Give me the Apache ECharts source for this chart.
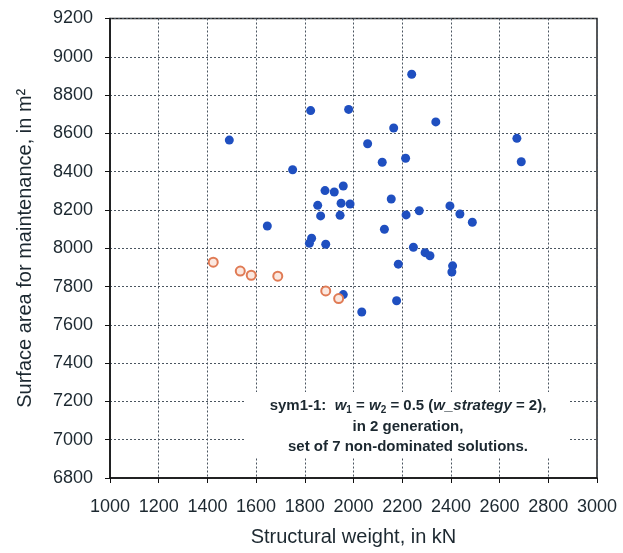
<!DOCTYPE html>
<html>
<head>
<meta charset="utf-8">
<script src="https://cdn.jsdelivr.net/npm/echarts@6/dist/echarts.min.js"></script>
<style>
  html, body { margin: 0; padding: 0; background: #fff; }
  #chart { width: 623px; height: 553px; }
</style>
</head>
<body>
<div id="chart"></div>
<script>
// Tick values of both axes
const xTicks = [1000, 1200, 1400, 1600, 1800, 2000, 2200, 2400, 2600, 2800, 3000];
const yTicks = [6800, 7000, 7200, 7400, 7600, 7800, 8000, 8200, 8400, 8600, 8800, 9000, 9200];

// Population of generation 2: structural weight [kN] and surface area [m²]
const popWeight = [1824, 1980, 1490, 1750, 1883, 1921, 1958, 1853, 1949, 1986,
                   1865, 1945, 1646, 1828, 1819, 1886, 1958, 2239, 2338, 2165,
                   2058, 2671, 2689, 2118, 2214, 2155, 2270, 2216, 2396, 2437,
                   2488, 2127, 2246, 2294, 2314, 2407, 2404, 2184, 2177, 2034];
const popArea   = [8719, 8725, 8565, 8410, 8301, 8294, 8325, 8224, 8235, 8231,
                   8169, 8172, 8116, 8052, 8026, 8021, 7758, 8909, 8660, 8628,
                   8546, 8574, 8452, 8449, 8470, 8257, 8196, 8174, 8221, 8179,
                   8136, 8099, 8005, 7977, 7961, 7908, 7876, 7917, 7726, 7667];

// Non-dominated solutions
const ndWeight = [1424, 1535, 1580, 1689, 1886, 1939];
const ndArea   = [7927, 7881, 7859, 7854, 7777, 7737];

const FONT = '"Liberation Sans", Arial, sans-serif';
const INK = '#1c2830';

const popData = popWeight.map((w, i) => [w, popArea[i]]);
const ndData = ndWeight.map((w, i) => [w, ndArea[i]]);

const chart = echarts.init(document.getElementById('chart'), null, { renderer: 'canvas' });

const gridLine = { show: true, lineStyle: { color: '#4a5560', width: 1, type: [2, 2] } };
const plain = v => String(v);

chart.setOption({
  animation: false,
  backgroundColor: '#fff',
  grid: {
    left: 110, right: 26, top: 18.5, bottom: 75,
    show: true, borderColor: '#222', borderWidth: 1.5, backgroundColor: 'transparent'
  },
  xAxis: {
    type: 'value',
    min: xTicks[0], max: xTicks[xTicks.length - 1], interval: 200,
    name: 'Structural weight, in kN',
    nameLocation: 'middle', nameGap: 49,
    nameTextStyle: { fontFamily: FONT, fontSize: 20, color: INK },
    axisLine: { show: true, lineStyle: { color: '#111', width: 1.5 } },
    axisTick: { show: true, inside: false, length: 5, lineStyle: { color: '#111' } },
    axisLabel: { fontFamily: FONT, fontSize: 18, color: INK, margin: 20, formatter: plain },
    splitLine: gridLine
  },
  yAxis: {
    type: 'value',
    min: yTicks[0], max: yTicks[yTicks.length - 1], interval: 200,
    name: 'Surface area for maintenance, in m²',
    nameLocation: 'middle', nameGap: 75,
    nameTextStyle: { fontFamily: FONT, fontSize: 20, color: INK },
    axisLine: { show: true, lineStyle: { color: '#111', width: 1.5 } },
    axisTick: { show: true, inside: false, length: 5, lineStyle: { color: '#111' } },
    axisLabel: { fontFamily: FONT, fontSize: 18, color: INK, margin: 17, formatter: plain },
    splitLine: gridLine
  },
  graphic: [
    {
      type: 'rect', z: 1,
      shape: { x: 246, y: 392, width: 322, height: 66 },
      style: { fill: '#fff' }
    },
    {
      type: 'text', z: 2,
      x: 408, y: 406,
      style: {
        align: 'center', verticalAlign: 'middle',
        rich: {
          n: { fontFamily: FONT, fontSize: 15, fill: INK, fontWeight: 'bold' },
          i: { fontFamily: FONT, fontSize: 15, fill: INK, fontStyle: 'italic', fontWeight: 'bold' },
          s: { fontFamily: FONT, fontSize: 10, fill: INK, fontWeight: 'bold', padding: [8, 0, 0, 0] }
        },
        text: '{n|sym1-1:  }{i|w}{s|1}{n| = }{i|w}{s|2}{n| = 0.5 (}{i|w_strategy}{n| = 2),}'
      }
    },
    {
      type: 'text', z: 2,
      x: 408, y: 427,
      style: {
        text: 'in 2 generation,',
        fontFamily: FONT, fontSize: 15, fontWeight: 'bold', fill: INK,
        align: 'center', verticalAlign: 'middle'
      }
    },
    {
      type: 'text', z: 2,
      x: 408, y: 447,
      style: {
        text: 'set of 7 non-dominated solutions.',
        fontFamily: FONT, fontSize: 15, fontWeight: 'bold', fill: INK,
        align: 'center', verticalAlign: 'middle'
      }
    }
  ],
  series: [
    {
      type: 'scatter',
      data: popData,
      symbol: 'circle', symbolSize: 9,
      itemStyle: { color: '#1f4fc0', opacity: 1 },
      z: 3
    },
    {
      type: 'scatter',
      data: ndData,
      symbol: 'circle', symbolSize: 9,
      itemStyle: { color: '#fbe8e0', borderColor: '#e07b55', borderWidth: 2, opacity: 1 },
      z: 3
    }
  ]
});
</script>
</body>
</html>
